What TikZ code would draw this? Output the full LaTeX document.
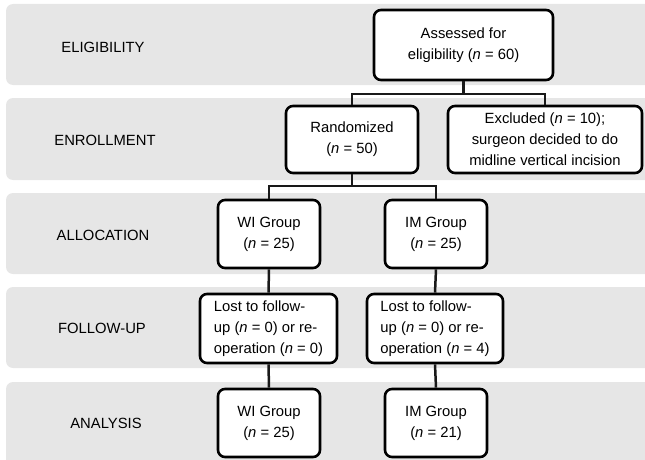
\documentclass[tikz,border=0pt]{standalone}
\usepackage{fontspec}
\setmainfont{Liberation Sans}
\definecolor{bandgray}{RGB}{230,230,230}
\begin{document}
\begin{tikzpicture}[x=1pt,y=-1pt,
  band/.style={fill=bandgray,draw=none,rounded corners=7pt},
  box/.style={draw=black,line width=2.6pt,rounded corners=7pt,fill=white,align=center,inner sep=0pt,font=\fontsize{14.8}{21}\selectfont},
  lbox/.style={box,align=left},
  stage/.style={font=\fontsize{14.8}{21}\selectfont,inner sep=0pt},
  conn/.style={line width=2.5pt,draw=black!90}]
\useasboundingbox (0,0) rectangle (645,460);
% bands
\fill[band] (6,4) rectangle (665,85);
\fill[band] (6,98) rectangle (665,180);
\fill[band] (6,193) rectangle (665,274);
\fill[band] (6,287) rectangle (665,368);
\fill[band] (6,382) rectangle (665,470);
% stage labels
\node[stage] (l1) at (103,47) {ELIGIBILITY};
\node[stage] (l2) at (105,140) {ENROLLMENT};
\node[stage] (l3) at (103,235) {ALLOCATION};
\node[stage] (l4) at (102,328) {FOLLOW-UP};
\node[stage] (l5) at (106,423) {ANALYSIS};
% boxes
\node[box,minimum width=179,minimum height=70] (ass) at (463.5,45) {Assessed for\\eligibility (\textit{n} = 60)};
\node[box,minimum width=132,minimum height=67] (rand) at (352,139.5) {Randomized\\(\textit{n} = 50)};
\node[box,minimum width=194,minimum height=67] (excl) at (545,139.5) {Excluded (\textit{n} = 10);\\surgeon decided to do\\midline vertical incision};
\node[box,minimum width=102,minimum height=68] (wia) at (269,234) {WI Group\\(\textit{n} = 25)};
\node[box,minimum width=102,minimum height=68] (ima) at (436,234) {IM Group\\(\textit{n} = 25)};
\node[lbox,minimum width=137,minimum height=69] (wif) at (268.5,328.5) {Lost to follow-\\up (\textit{n} = 0) or re-\\operation (\textit{n} = 0)};
\node[lbox,minimum width=136,minimum height=69] (imf) at (435,328.5) {Lost to follow-\\up (\textit{n} = 0) or re-\\operation (\textit{n} = 4)};
\node[box,minimum width=102,minimum height=68] (wian) at (269,423) {WI Group\\(\textit{n} = 25)};
\node[box,minimum width=102,minimum height=68] (iman) at (436,423) {IM Group\\(\textit{n} = 21)};
% connectors
\coordinate (j1) at (463.5,94);
\coordinate (j2) at (352,186);
\draw[conn] (ass.south) -- (j1);
\draw[conn] (rand.north) |- (j1) -| (excl.north);
\draw[conn] (rand.south) -- (j2);
\draw[conn] (wia.north) |- (j2) -| (ima.north);
\draw[conn] (wia.south) -- (wif.north);
\draw[conn] (wif.south) -- (wian.north);
\draw[conn] (ima.south) -- (imf.north);
\draw[conn] (imf.south) -- (iman.north);
\end{tikzpicture}
\end{document}
